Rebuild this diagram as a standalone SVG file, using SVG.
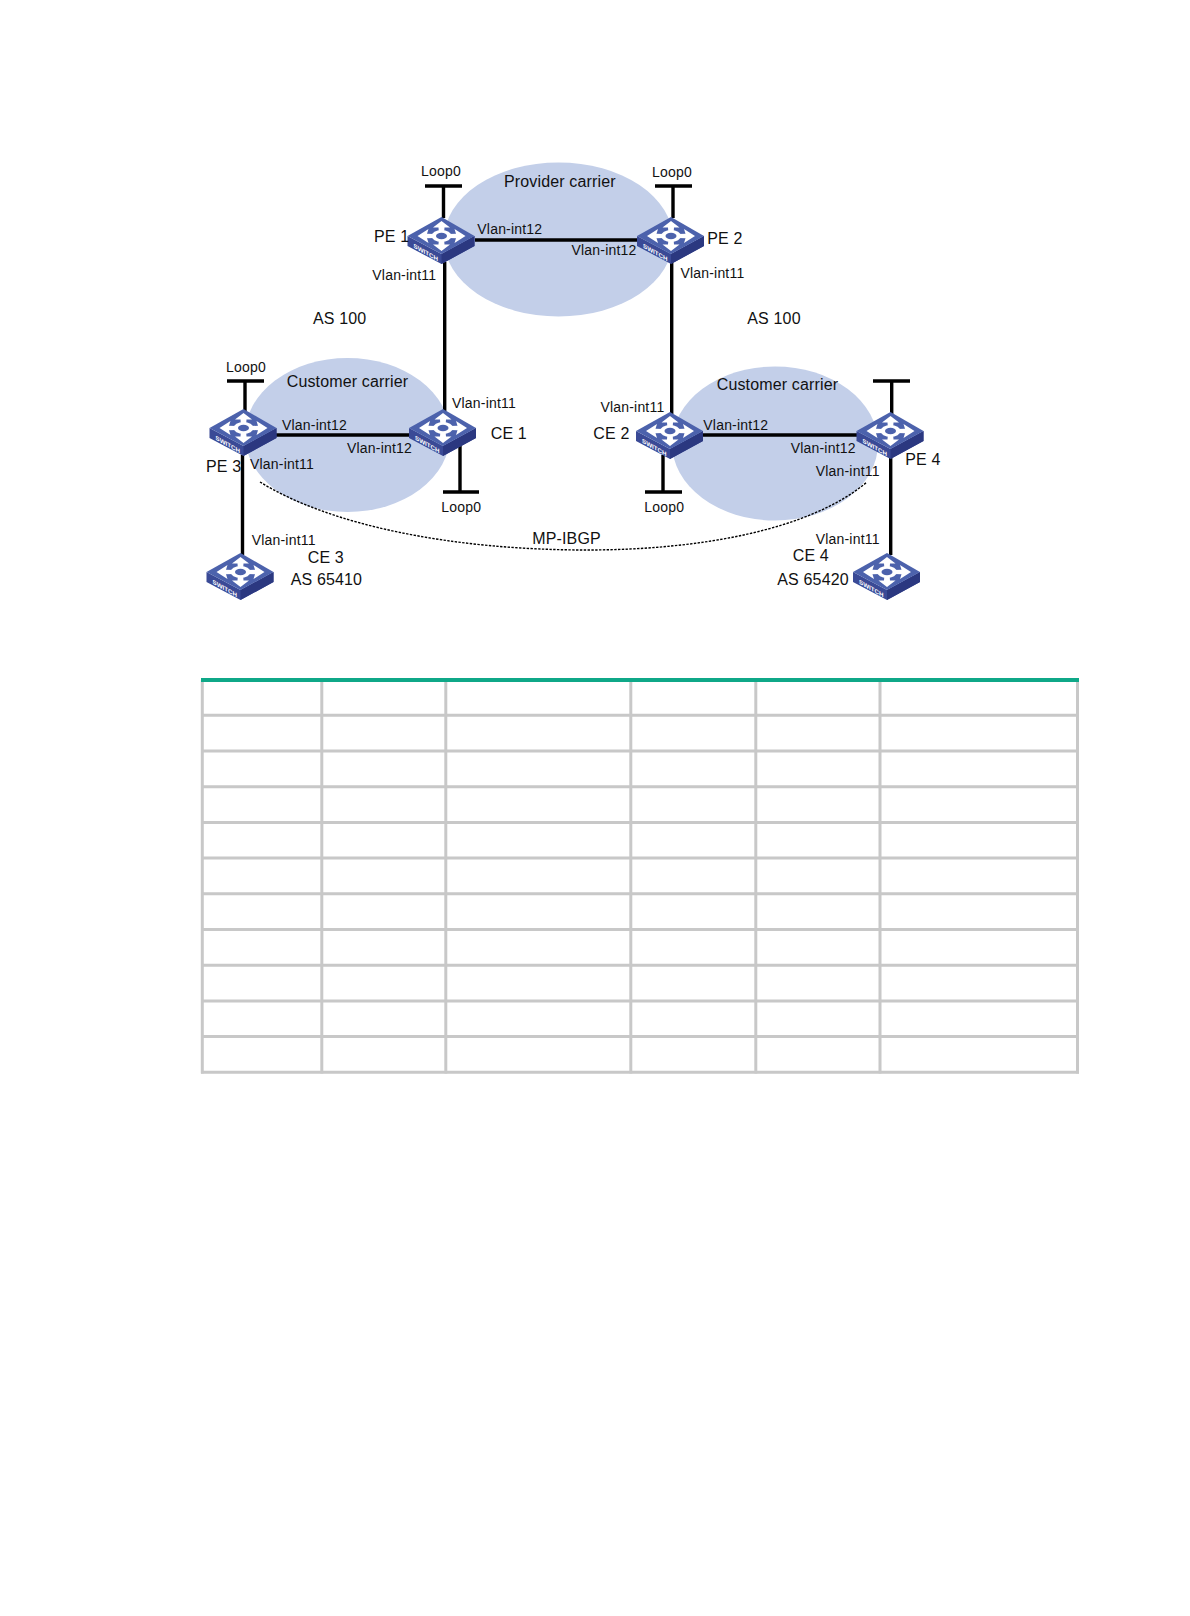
<svg xmlns="http://www.w3.org/2000/svg" xmlns:xlink="http://www.w3.org/1999/xlink" width="1190" height="1616" viewBox="0 0 1190 1616">
<style>
text{font-family:"Liberation Sans",Arial,sans-serif;fill:#111}
.s{font-size:14px;letter-spacing:.2px}
.m{font-size:16px;letter-spacing:.15px}
.area{fill:#c3cfe9}
.wire{stroke:#000;stroke-width:3.4;fill:none}
.bgp{stroke:#000;stroke-width:1.4;stroke-dasharray:2.4 1.4;fill:none}
.grid{stroke:#c8c8c8;stroke-width:3;fill:none}
.sw{font-size:6.2px;font-weight:bold;fill:#fff}
</style>
<defs>
<g id="switch">
<polygon points="-34,0 0,18 33,0 33,10 0,28 -34,10" fill="#3a4a96"/>
<polygon points="0,18 33,0 33,10 0,28" fill="#2b3880"/>
<polygon points="-34,0 0,-19 33,0 0,18" fill="#4c62ac"/>
<g fill="#fff">
<polygon points="24,0 13,-7 14.5,-2.2 7,-2 7,2 14.5,2.2 13,7"/>
<polygon points="-24,0 -13,-7 -14.5,-2.2 -7,-2 -7,2 -14.5,2.2 -13,7"/>
<polygon points="0,-15 -8.5,-8.5 -3,-8.5 -2.6,-3 2.6,-3 3,-8.5 8.5,-8.5"/>
<polygon points="0,15 -8.5,8.5 -3,8.5 -2.6,3 2.6,3 3,8.5 8.5,8.5"/>
<ellipse rx="10" ry="6"/>
</g>
<ellipse rx="5.5" ry="3.2" fill="#4c62ac"/>
<text class="sw" transform="matrix(1 .58 0 1 -28 11.5)">SWITCH</text>
</g>
</defs>
<rect width="1190" height="1616" fill="#fff"/>
<g id="areas">
<ellipse class="area" cx="558.5" cy="239.5" rx="114.5" ry="77"/>
<ellipse class="area" cx="347.5" cy="435" rx="102.5" ry="77"/>
<ellipse class="area" cx="775" cy="443.5" rx="103" ry="77"/>
</g>
<g id="connectors">
<path class="wire" d="M425 186H462M443.5 186V218"/>
<path class="wire" d="M655 186H692M673 186V218"/>
<path class="wire" d="M227 381H264M245 381V411"/>
<path class="wire" d="M873 381H910M891.7 381V414"/>
<path class="wire" d="M443 492H479M460 445V492"/>
<path class="wire" d="M645 492H682M663 455V492"/>
<path class="wire" d="M475 240H640"/>
<path class="wire" d="M444.7 262V411"/>
<path class="wire" d="M671.7 262V414"/>
<path class="wire" d="M276 435H411"/>
<path class="wire" d="M703 435H858"/>
<path class="wire" d="M242.5 455V555"/>
<path class="wire" d="M890.7 458V555"/>
<path class="bgp" d="M260 482C330 525 450 550 587 550C700 550 810 530 867 482"/>
</g>
<g id="PE1"><use href="#switch" x="441.5" y="236"/><text class="m" x="374" y="242">PE 1</text></g>
<g id="PE2"><use href="#switch" x="671" y="236"/><text class="m" x="707.3" y="244">PE 2</text></g>
<g id="PE3"><use href="#switch" x="243.5" y="428"/><text class="m" x="206" y="472">PE 3</text></g>
<g id="PE4"><use href="#switch" x="890.5" y="431"/><text class="m" x="905.3" y="465">PE 4</text></g>
<g id="CE1"><use href="#switch" x="443" y="428"/><text class="m" x="490.7" y="439">CE 1</text></g>
<g id="CE2"><use href="#switch" x="670" y="431"/><text class="m" x="593.3" y="439">CE 2</text></g>
<g id="CE3"><use href="#switch" x="240.5" y="572"/><text class="m" x="307.7" y="563">CE 3</text><text class="m" x="290.7" y="585">AS 65410</text></g>
<g id="CE4"><use href="#switch" x="887" y="572"/><text class="m" x="792.7" y="561.3">CE 4</text><text class="m" x="777.3" y="585">AS 65420</text></g>
<g id="labels">
<text class="m" x="504" y="187">Provider carrier</text>
<text class="m" x="286.7" y="387">Customer carrier</text>
<text class="m" x="716.7" y="390">Customer carrier</text>
<text class="m" x="313" y="323.5">AS 100</text>
<text class="m" x="747.3" y="323.5">AS 100</text>
<text class="m" x="532.2" y="543.5">MP-IBGP</text>
<text class="s" x="421" y="176">Loop0</text>
<text class="s" x="652" y="177">Loop0</text>
<text class="s" x="226" y="372">Loop0</text>
<text class="s" x="441.2" y="512">Loop0</text>
<text class="s" x="644.3" y="512">Loop0</text>
<text class="s" x="477.3" y="234">Vlan-int12</text>
<text class="s" x="571.5" y="255">Vlan-int12</text>
<text class="s" x="372.3" y="280">Vlan-int11</text>
<text class="s" x="680.4" y="277.7">Vlan-int11</text>
<text class="s" x="452" y="408">Vlan-int11</text>
<text class="s" x="600.4" y="412">Vlan-int11</text>
<text class="s" x="282" y="430">Vlan-int12</text>
<text class="s" x="347" y="453">Vlan-int12</text>
<text class="s" x="703.3" y="430">Vlan-int12</text>
<text class="s" x="790.7" y="453">Vlan-int12</text>
<text class="s" x="250" y="469">Vlan-int11</text>
<text class="s" x="815.7" y="476">Vlan-int11</text>
<text class="s" x="251.7" y="545">Vlan-int11</text>
<text class="s" x="815.7" y="544">Vlan-int11</text>
</g>
<g id="table">
<path class="grid" d="M202.3 680V1073.5M321.8 680V1073.5M445.8 680V1073.5M630.8 680V1073.5M755.8 680V1073.5M880 680V1073.5M1077.5 680V1073.5"/>
<path class="grid" d="M201 715.3H1079M201 751H1079M201 786.7H1079M201 822.4H1079M201 858.1H1079M201 893.8H1079M201 929.5H1079M201 965.2H1079M201 1000.9H1079M201 1036.6H1079M201 1072.3H1079"/>
<rect x="201" y="678" width="878" height="4" fill="#0fa888"/>
</g>
</svg>
